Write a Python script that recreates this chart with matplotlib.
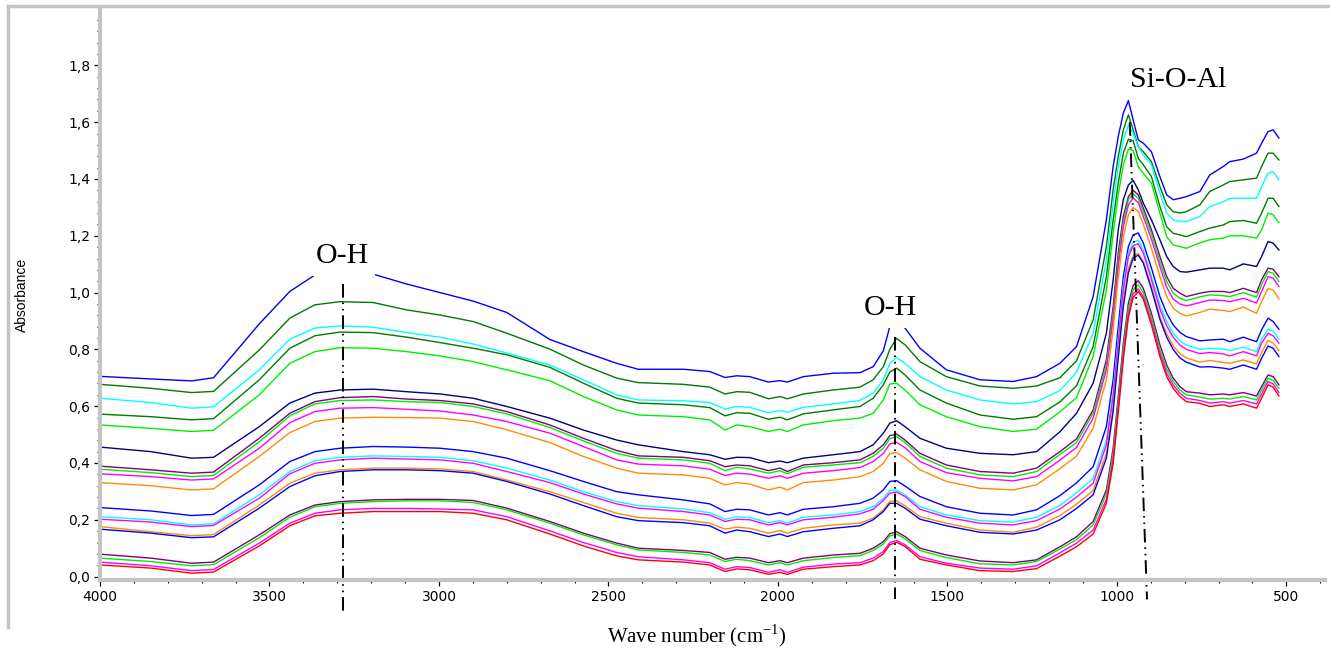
import matplotlib
matplotlib.use("Agg")
import matplotlib.pyplot as plt
from matplotlib.ticker import MultipleLocator, FuncFormatter
from matplotlib.lines import Line2D

# wave numbers (cm-1) at which the spectra were read
wavenumber = [4000, 3850, 3730, 3665, 3530, 3440, 3366, 3292, 3194, 3095,
              2997, 2899, 2800, 2673, 2574, 2476, 2412, 2279, 2201, 2156,
              2122, 2083, 2028, 1994, 1972, 1925, 1837, 1758, 1719, 1689,
              1670, 1650, 1625, 1581, 1503, 1404, 1306, 1237, 1168, 1119,
              1070, 1031, 1011, 996, 981, 966, 952, 937, 922, 898,
              873, 853, 834, 814, 795, 755, 726, 686, 667, 627,
              588, 573, 554, 539, 522]

# absorbance of each spectrum, top to bottom
spec_01 = [0.705, 0.696, 0.689, 0.700, 0.890, 1.004, 1.062, 1.080, 1.065, 1.030,
           1.000, 0.970, 0.930, 0.835, 0.792, 0.751, 0.730, 0.730, 0.722, 0.701,
           0.707, 0.704, 0.685, 0.690, 0.685, 0.704, 0.716, 0.718, 0.739, 0.795,
           0.880, 0.915, 0.875, 0.804, 0.728, 0.693, 0.687, 0.704, 0.751, 0.810,
           0.986, 1.256, 1.444, 1.549, 1.632, 1.676, 1.608, 1.538, 1.526, 1.496,
           1.408, 1.344, 1.327, 1.332, 1.338, 1.356, 1.414, 1.444, 1.461, 1.470,
           1.491, 1.526, 1.567, 1.573, 1.544]
spec_02 = [0.677, 0.663, 0.648, 0.652, 0.798, 0.910, 0.957, 0.968, 0.965, 0.939,
           0.921, 0.898, 0.857, 0.801, 0.745, 0.699, 0.683, 0.677, 0.667, 0.643,
           0.651, 0.649, 0.626, 0.634, 0.626, 0.643, 0.657, 0.667, 0.693, 0.739,
           0.800, 0.839, 0.816, 0.757, 0.704, 0.671, 0.663, 0.671, 0.700, 0.760,
           0.904, 1.162, 1.362, 1.479, 1.573, 1.626, 1.573, 1.514, 1.496, 1.461,
           1.373, 1.309, 1.285, 1.280, 1.285, 1.309, 1.356, 1.379, 1.391, 1.397,
           1.403, 1.444, 1.491, 1.491, 1.467]
spec_03 = [0.628, 0.613, 0.593, 0.598, 0.728, 0.836, 0.875, 0.883, 0.878, 0.859,
           0.843, 0.819, 0.787, 0.745, 0.693, 0.640, 0.622, 0.619, 0.613, 0.590,
           0.599, 0.596, 0.577, 0.585, 0.579, 0.596, 0.608, 0.620, 0.646, 0.693,
           0.750, 0.772, 0.751, 0.704, 0.657, 0.622, 0.608, 0.616, 0.655, 0.720,
           0.857, 1.115, 1.315, 1.444, 1.538, 1.590, 1.561, 1.514, 1.485, 1.450,
           1.350, 1.280, 1.256, 1.250, 1.250, 1.268, 1.303, 1.320, 1.332, 1.332,
           1.332, 1.373, 1.420, 1.426, 1.397]
spec_04 = [0.572, 0.563, 0.552, 0.556, 0.693, 0.804, 0.848, 0.861, 0.859, 0.843,
           0.824, 0.804, 0.781, 0.737, 0.681, 0.628, 0.611, 0.605, 0.595, 0.566,
           0.577, 0.575, 0.554, 0.561, 0.552, 0.573, 0.587, 0.599, 0.628, 0.675,
           0.720, 0.734, 0.710, 0.657, 0.611, 0.569, 0.554, 0.563, 0.615, 0.672,
           0.810, 1.056, 1.256, 1.385, 1.491, 1.540, 1.535, 1.473, 1.450, 1.408,
           1.303, 1.232, 1.209, 1.203, 1.197, 1.215, 1.227, 1.238, 1.250, 1.254,
           1.244, 1.280, 1.332, 1.332, 1.303]
spec_05 = [0.534, 0.522, 0.511, 0.515, 0.640, 0.751, 0.792, 0.806, 0.804, 0.792,
           0.777, 0.757, 0.728, 0.690, 0.634, 0.587, 0.569, 0.563, 0.552, 0.516,
           0.534, 0.528, 0.511, 0.519, 0.511, 0.534, 0.549, 0.558, 0.575, 0.622,
           0.678, 0.681, 0.657, 0.605, 0.563, 0.528, 0.511, 0.519, 0.580, 0.630,
           0.775, 1.009, 1.209, 1.344, 1.450, 1.505, 1.500, 1.444, 1.420, 1.385,
           1.280, 1.197, 1.168, 1.162, 1.156, 1.175, 1.186, 1.192, 1.200, 1.200,
           1.192, 1.221, 1.280, 1.274, 1.247]
spec_06 = [0.456, 0.440, 0.417, 0.420, 0.528, 0.611, 0.646, 0.657, 0.660, 0.651,
           0.643, 0.628, 0.599, 0.558, 0.516, 0.481, 0.464, 0.440, 0.429, 0.413,
           0.420, 0.419, 0.401, 0.407, 0.401, 0.417, 0.429, 0.440, 0.464, 0.505,
           0.540, 0.549, 0.528, 0.487, 0.452, 0.434, 0.429, 0.440, 0.510, 0.575,
           0.681, 0.857, 1.045, 1.221, 1.327, 1.379, 1.395, 1.362, 1.315, 1.256,
           1.186, 1.127, 1.092, 1.074, 1.072, 1.080, 1.086, 1.086, 1.080, 1.101,
           1.092, 1.127, 1.180, 1.174, 1.150]
spec_07 = [0.389, 0.376, 0.364, 0.368, 0.487, 0.575, 0.616, 0.630, 0.634, 0.625,
           0.620, 0.608, 0.581, 0.534, 0.487, 0.444, 0.425, 0.420, 0.408, 0.387,
           0.393, 0.390, 0.373, 0.382, 0.370, 0.393, 0.401, 0.411, 0.434, 0.464,
           0.496, 0.502, 0.481, 0.434, 0.393, 0.370, 0.364, 0.382, 0.440, 0.485,
           0.587, 0.763, 0.951, 1.139, 1.268, 1.338, 1.360, 1.344, 1.297, 1.221,
           1.127, 1.056, 1.015, 0.998, 0.986, 0.998, 1.004, 1.004, 1.000, 1.015,
           1.000, 1.045, 1.086, 1.082, 1.056]
spec_08 = [0.378, 0.366, 0.352, 0.356, 0.475, 0.566, 0.608, 0.620, 0.622, 0.616,
           0.613, 0.599, 0.573, 0.525, 0.478, 0.434, 0.417, 0.411, 0.399, 0.373,
           0.385, 0.379, 0.364, 0.373, 0.362, 0.385, 0.393, 0.401, 0.423, 0.452,
           0.485, 0.493, 0.472, 0.423, 0.382, 0.358, 0.352, 0.370, 0.430, 0.472,
           0.575, 0.745, 0.927, 1.115, 1.250, 1.327, 1.348, 1.332, 1.285, 1.207,
           1.109, 1.039, 0.998, 0.980, 0.972, 0.985, 0.992, 0.989, 0.986, 1.000,
           0.984, 1.027, 1.074, 1.068, 1.039]
spec_09 = [0.362, 0.352, 0.340, 0.344, 0.452, 0.542, 0.581, 0.593, 0.595, 0.589,
           0.583, 0.569, 0.546, 0.505, 0.458, 0.411, 0.396, 0.390, 0.378, 0.356,
           0.364, 0.361, 0.346, 0.355, 0.346, 0.364, 0.373, 0.384, 0.405, 0.434,
           0.467, 0.473, 0.454, 0.405, 0.366, 0.346, 0.337, 0.352, 0.410, 0.455,
           0.558, 0.728, 0.906, 1.092, 1.232, 1.309, 1.333, 1.317, 1.268, 1.188,
           1.092, 1.019, 0.977, 0.960, 0.953, 0.965, 0.974, 0.972, 0.968, 0.980,
           0.963, 1.004, 1.056, 1.051, 1.021]
spec_10 = [0.331, 0.320, 0.305, 0.309, 0.423, 0.507, 0.546, 0.558, 0.561, 0.560,
           0.558, 0.546, 0.517, 0.472, 0.423, 0.382, 0.364, 0.358, 0.346, 0.323,
           0.331, 0.326, 0.305, 0.315, 0.305, 0.331, 0.340, 0.352, 0.370, 0.399,
           0.433, 0.437, 0.417, 0.376, 0.335, 0.311, 0.305, 0.323, 0.380, 0.424,
           0.523, 0.693, 0.869, 1.051, 1.197, 1.274, 1.300, 1.285, 1.240, 1.156,
           1.056, 0.986, 0.945, 0.927, 0.918, 0.930, 0.942, 0.937, 0.933, 0.949,
           0.927, 0.968, 1.015, 1.009, 0.977]
spec_11 = [0.243, 0.231, 0.215, 0.219, 0.323, 0.405, 0.440, 0.452, 0.458, 0.456,
           0.452, 0.440, 0.417, 0.373, 0.335, 0.299, 0.288, 0.270, 0.256, 0.229,
           0.237, 0.235, 0.217, 0.225, 0.217, 0.237, 0.246, 0.258, 0.276, 0.305,
           0.335, 0.338, 0.319, 0.282, 0.246, 0.223, 0.217, 0.235, 0.285, 0.330,
           0.387, 0.528, 0.693, 0.880, 1.056, 1.162, 1.203, 1.210, 1.174, 1.086,
           0.986, 0.927, 0.886, 0.860, 0.845, 0.830, 0.833, 0.836, 0.827, 0.843,
           0.827, 0.869, 0.910, 0.898, 0.871]
spec_12 = [0.211, 0.200, 0.182, 0.186, 0.288, 0.370, 0.408, 0.420, 0.425, 0.423,
           0.420, 0.408, 0.382, 0.340, 0.299, 0.264, 0.250, 0.238, 0.225, 0.202,
           0.211, 0.208, 0.190, 0.197, 0.188, 0.209, 0.217, 0.229, 0.246, 0.276,
           0.304, 0.305, 0.288, 0.246, 0.217, 0.197, 0.192, 0.209, 0.250, 0.295,
           0.346, 0.481, 0.651, 0.839, 1.027, 1.139, 1.176, 1.185, 1.150, 1.056,
           0.957, 0.898, 0.857, 0.830, 0.815, 0.800, 0.804, 0.801, 0.796, 0.808,
           0.792, 0.836, 0.871, 0.863, 0.836]
spec_13 = [0.202, 0.192, 0.176, 0.180, 0.276, 0.362, 0.399, 0.411, 0.417, 0.414,
           0.411, 0.399, 0.370, 0.331, 0.291, 0.256, 0.241, 0.229, 0.217, 0.194,
           0.202, 0.200, 0.182, 0.190, 0.182, 0.200, 0.209, 0.221, 0.237, 0.268,
           0.294, 0.298, 0.282, 0.237, 0.209, 0.188, 0.182, 0.197, 0.238, 0.280,
           0.329, 0.464, 0.634, 0.822, 1.009, 1.127, 1.165, 1.172, 1.139, 1.045,
           0.942, 0.883, 0.843, 0.815, 0.800, 0.785, 0.789, 0.784, 0.777, 0.792,
           0.777, 0.822, 0.857, 0.848, 0.822]
spec_14 = [0.176, 0.158, 0.144, 0.148, 0.252, 0.329, 0.364, 0.376, 0.382, 0.382,
           0.379, 0.370, 0.340, 0.299, 0.261, 0.223, 0.208, 0.200, 0.188, 0.167,
           0.174, 0.170, 0.153, 0.162, 0.153, 0.170, 0.182, 0.188, 0.206, 0.235,
           0.265, 0.267, 0.249, 0.211, 0.188, 0.164, 0.156, 0.174, 0.215, 0.255,
           0.303, 0.434, 0.599, 0.787, 0.968, 1.086, 1.129, 1.138, 1.109, 1.021,
           0.916, 0.855, 0.812, 0.785, 0.770, 0.755, 0.761, 0.754, 0.751, 0.763,
           0.749, 0.789, 0.831, 0.822, 0.796]
spec_15 = [0.167, 0.153, 0.137, 0.140, 0.241, 0.317, 0.355, 0.370, 0.376, 0.376,
           0.373, 0.364, 0.335, 0.291, 0.250, 0.211, 0.197, 0.190, 0.179, 0.153,
           0.164, 0.158, 0.141, 0.150, 0.141, 0.158, 0.170, 0.179, 0.200, 0.229,
           0.258, 0.258, 0.241, 0.202, 0.179, 0.156, 0.150, 0.164, 0.200, 0.240,
           0.288, 0.417, 0.581, 0.769, 0.951, 1.070, 1.121, 1.132, 1.104, 1.012,
           0.906, 0.843, 0.800, 0.770, 0.755, 0.738, 0.739, 0.734, 0.730, 0.745,
           0.730, 0.769, 0.812, 0.804, 0.775]
spec_16 = [0.079, 0.065, 0.047, 0.051, 0.147, 0.217, 0.252, 0.264, 0.270, 0.272,
           0.272, 0.268, 0.241, 0.194, 0.153, 0.118, 0.100, 0.092, 0.085, 0.061,
           0.068, 0.065, 0.049, 0.056, 0.049, 0.065, 0.076, 0.082, 0.100, 0.123,
           0.151, 0.158, 0.141, 0.100, 0.076, 0.055, 0.049, 0.059, 0.105, 0.140,
           0.194, 0.305, 0.452, 0.634, 0.822, 0.963, 1.025, 1.042, 1.015, 0.927,
           0.816, 0.745, 0.699, 0.669, 0.651, 0.646, 0.640, 0.643, 0.640, 0.648,
           0.636, 0.669, 0.710, 0.704, 0.675]
spec_17 = [0.065, 0.053, 0.038, 0.042, 0.137, 0.209, 0.246, 0.258, 0.264, 0.267,
           0.267, 0.261, 0.235, 0.188, 0.147, 0.112, 0.094, 0.085, 0.076, 0.053,
           0.061, 0.056, 0.041, 0.049, 0.041, 0.056, 0.067, 0.074, 0.092, 0.115,
           0.143, 0.150, 0.133, 0.092, 0.067, 0.045, 0.041, 0.053, 0.097, 0.130,
           0.182, 0.291, 0.434, 0.616, 0.804, 0.945, 1.010, 1.027, 1.000, 0.913,
           0.801, 0.730, 0.687, 0.657, 0.640, 0.632, 0.625, 0.628, 0.625, 0.634,
           0.622, 0.657, 0.699, 0.690, 0.663]
spec_18 = [0.051, 0.038, 0.021, 0.025, 0.118, 0.188, 0.223, 0.235, 0.240, 0.240,
           0.238, 0.235, 0.211, 0.161, 0.120, 0.085, 0.070, 0.059, 0.049, 0.026,
           0.035, 0.032, 0.015, 0.024, 0.015, 0.033, 0.044, 0.049, 0.065, 0.088,
           0.120, 0.127, 0.112, 0.070, 0.047, 0.030, 0.026, 0.038, 0.084, 0.118,
           0.164, 0.272, 0.413, 0.593, 0.781, 0.927, 0.995, 1.013, 0.986, 0.898,
           0.787, 0.716, 0.675, 0.646, 0.628, 0.620, 0.611, 0.616, 0.611, 0.620,
           0.608, 0.643, 0.687, 0.679, 0.648]
spec_19 = [0.041, 0.030, 0.012, 0.016, 0.108, 0.179, 0.214, 0.223, 0.229, 0.229,
           0.229, 0.223, 0.200, 0.150, 0.108, 0.073, 0.059, 0.051, 0.041, 0.018,
           0.027, 0.024, 0.008, 0.015, 0.008, 0.026, 0.035, 0.041, 0.056, 0.080,
           0.112, 0.121, 0.106, 0.061, 0.041, 0.021, 0.018, 0.028, 0.072, 0.105,
           0.150, 0.258, 0.399, 0.577, 0.765, 0.913, 0.982, 1.004, 0.977, 0.886,
           0.775, 0.704, 0.663, 0.634, 0.616, 0.610, 0.599, 0.605, 0.599, 0.608,
           0.593, 0.628, 0.675, 0.667, 0.636]

spectra = [spec_01, spec_02, spec_03, spec_04, spec_05, spec_06, spec_07,
           spec_08, spec_09, spec_10, spec_11, spec_12, spec_13, spec_14,
           spec_15, spec_16, spec_17, spec_18, spec_19]

colors = ['#0000ff', '#007a00', '#00ffff', '#007a00', '#00ee00', '#000080',
          '#800080', '#00ee00', '#ff00ff', '#ff8c00', '#0000ff', '#00ffff',
          '#ff00ff', '#ff8c00', '#0000ff', '#800080', '#00ee00', '#ff00ff',
          '#ff0000']

x_ticks = [4000, 3500, 3000, 2500, 2000, 1500, 1000, 500]
y_ticks = [0.0, 0.2, 0.4, 0.6, 0.8, 1.0, 1.2, 1.4, 1.6, 1.8]

for s in spectra:
    assert len(s) == len(wavenumber)

W, H = 1330, 650
fig = plt.figure(figsize=(W / 100, H / 100), dpi=100)
ax = fig.add_axes([100 / W, 1 - 580 / H, 1225 / W, 570 / H])

for s, c in zip(spectra, colors):
    ax.plot(wavenumber, s, color=c, lw=1.0)

ax.set_xlim(4000, 386)
ax.set_ylim(-0.012, 1.995)

ax.set_xticks(x_ticks)
ax.set_yticks(y_ticks)
ax.xaxis.set_minor_locator(MultipleLocator(100))
ax.yaxis.set_minor_locator(MultipleLocator(0.04))
ax.yaxis.set_major_formatter(FuncFormatter(lambda v, p: f"{v:.1f}".replace(".", ",")))

for side in ["top", "right"]:
    ax.spines[side].set_visible(False)
for side in ["left", "bottom"]:
    ax.spines[side].set_color("#c4c4c4")
    ax.spines[side].set_linewidth(3.0)

ax.tick_params(which="major", length=4, width=0.9, color="black",
               labelsize=10, pad=3)
ax.tick_params(which="minor", length=2.5, width=0.8, color="black")
for lab in ax.get_xticklabels() + ax.get_yticklabels():
    lab.set_family("DejaVu Sans")

# dash-dot-dot guide lines
dd = (7, 2.5, 0.8, 2.5, 0.8, 2.5)
ax.plot([3284, 3284], [1.03, -0.13], color="black", lw=1.4, dashes=dd, clip_on=False)
ax.plot([1655, 1655], [0.845, -0.08], color="black", lw=1.4, dashes=dd, clip_on=False)
ax.plot([962, 911], [1.60, -0.08], color="black", lw=1.4, dashes=dd, clip_on=False)

# white boxes behind the labels hide the tops of the blue spectrum
box = dict(facecolor="white", edgecolor="none", pad=5)
ax.text(3286, 1.105, "O-H", family="Liberation Serif", fontsize=21.5,
        ha="center", va="baseline", bbox=box, zorder=5)
ax.text(1667, 0.921, "O-H", family="Liberation Serif", fontsize=21.5,
        ha="center", va="baseline", bbox=box, zorder=5)
ax.text(820, 1.724, "Si-O-Al", family="Liberation Serif", fontsize=21.5,
        ha="center", va="baseline", zorder=5)

fig.text(22 / W, 1 - 295 / H, "Absorbance", rotation=90, ha="center", va="center",
         family="Liberation Sans", fontsize=10)
fig.text(697 / W, 1 - 636 / H, r"Wave number (cm$^{\mathregular{-1}}$)",
         ha="center", va="center", family="Liberation Serif", fontsize=15)

# outer grey frame
fig.add_artist(Line2D([8 / W, 8 / W], [1 - 627 / H, 1 - 6 / H], color="#c4c4c4", lw=2.5))
fig.add_artist(Line2D([8 / W, 1.0], [1 - 6 / H, 1 - 6 / H], color="#c4c4c4", lw=2.5))

fig.savefig("out.png", dpi=100)
